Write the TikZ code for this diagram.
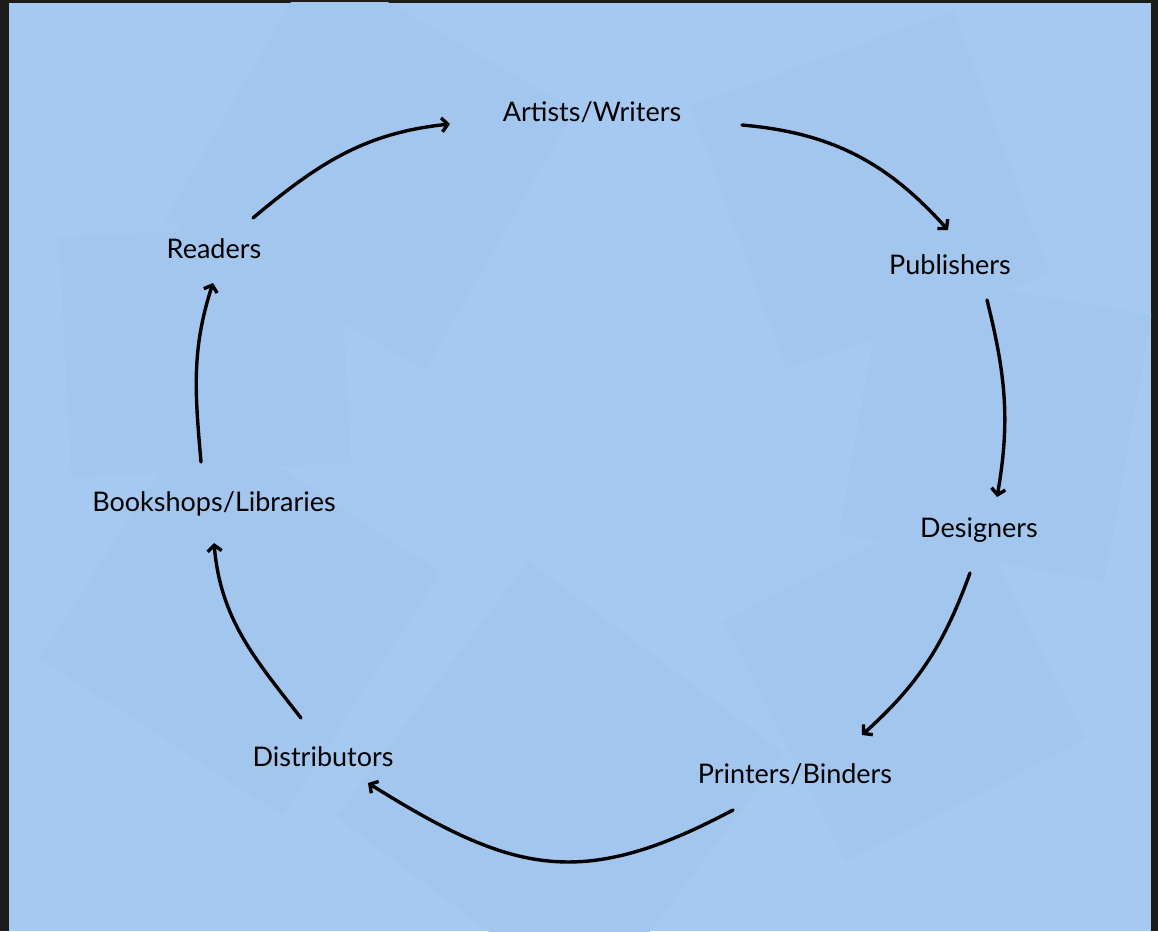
\documentclass[tikz,border=0pt]{standalone}
\usepackage{fontspec}
\setmainfont{Lato}
\usetikzlibrary{arrows.meta}

\definecolor{frame}{RGB}{28,28,26}
\definecolor{sky}{RGB}{166,201,241}
\definecolor{patch}{RGB}{163,198,239}

\tikzset{
  stage/.style={font=\fontsize{27}{32}\selectfont, inner sep=0pt, text=black},
  flow/.style={line width=3.4pt, line cap=round, black,
    -{Straight Barb[length=6pt,width=14pt,line width=3.4pt]}},
  patchfill/.style={fill=patch}
}

\begin{document}
\begin{tikzpicture}[x=1pt,y=1pt]
  % frame and paper
  \fill[frame] (0,0) rectangle (1158,-931);
  \fill[sky] (9,-3) rectangle (1151,-931);
  \useasboundingbox (0,0) rectangle (1158,-931);

  % faint squares behind
  \begin{scope}
    \clip (9,-3) rectangle (1151,-931);
    \fill[patchfill, rotate around={-30:(370,-165)}] (220,-15) rectangle (520,-315);
    \fill[patchfill, rotate around={20:(870,-190)}] (730,-50) rectangle (1010,-330);
    \fill[patchfill, rotate around={-10:(995,-425)}] (860,-290) rectangle (1130,-560);
    \fill[patchfill, rotate around={3:(205,-350)}] (65,-230) rectangle (345,-470);
    \fill[patchfill, rotate around={-33:(240,-615)}] (95,-470) rectangle (385,-760);
    \fill[patchfill, rotate around={27:(905,-680)}] (770,-545) rectangle (1040,-815);
    \fill[patchfill, rotate around={-37:(560,-785)}] (400,-625) rectangle (720,-945);
  \end{scope}

  % the book chain
  \node[stage] (aw)   at (592,-112) {Artists/Writers};
  \node[stage] (pub)  at (950,-265) {Publishers};
  \node[stage] (des)  at (979,-530) {Designers};
  \node[stage] (pb)   at (795,-774) {Printers/Binders};
  \node[stage] (dist) at (323,-757) {Distributors};
  \node[stage] (bl)   at (214,-504) {Bookshops/Libraries};
  \node[stage] (rd)   at (214,-249) {Readers};

  \draw[flow] ([shift={(150,-13)}]aw.center)  to[out=-5,in=132]  ([shift={(-2,35)}]pub.center);
  \draw[flow] ([shift={(37,-35)}]pub.center)  to[out=-76,in=80]  ([shift={(18,33)}]des.center);
  \draw[flow] ([shift={(-9,-43)}]des.center)  to[out=-110,in=42] ([shift={(67,39)}]pb.center);
  \draw[flow] ([shift={(-62,-36)}]pb.center)  to[out=208,in=-32,looseness=1.2] ([shift={(45,-26)}]dist.center);
  \draw[flow] ([shift={(-22,39)}]dist.center) to[out=128,in=-85] ([shift={(0,-39)}]bl.center);
  \draw[flow] ([shift={(-13,42)}]bl.center)   to[out=95,in=-108] ([shift={(-1,-34)}]rd.center);
  \draw[flow] ([shift={(39,31)}]rd.center)    to[out=40,in=186]  ([shift={(-142,-12)}]aw.center);
\end{tikzpicture}
\end{document}
